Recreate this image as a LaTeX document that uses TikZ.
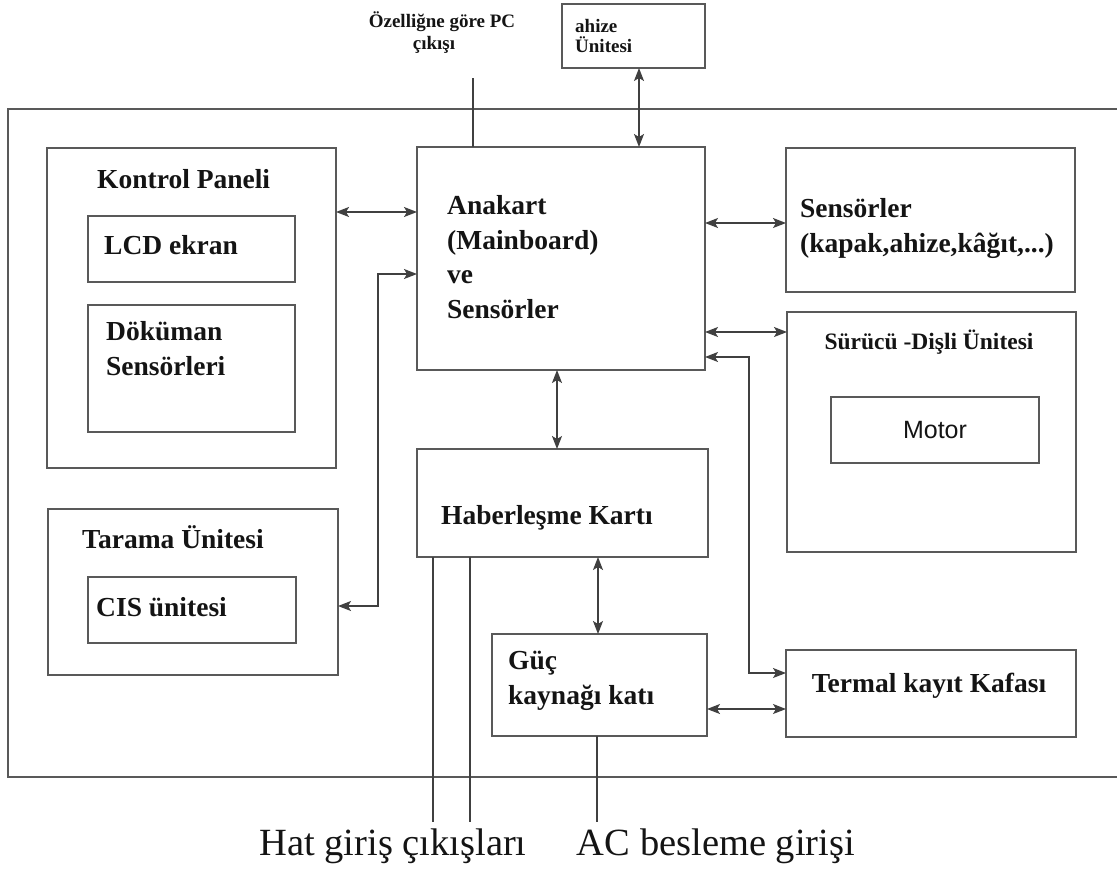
\documentclass[tikz,border=0pt]{standalone}
\usepackage{fontspec}
\setmainfont{Liberation Serif}
\newfontfamily\motorfont{Liberation Sans}
\usetikzlibrary{arrows.meta}

\tikzset{
  box/.style={draw=black!65, line width=1.8pt, inner sep=0pt, outer sep=0pt, anchor=north west},
  % multi-line labels are anchored on the baseline of their last line
  lbl/.style={inner sep=0pt, anchor=base west, align=left, text=black!92,
              font=\bfseries\fontsize{27.5}{34.5}\selectfont},
  clbl/.style={lbl, anchor=base},
  small/.style={inner sep=0pt, anchor=base west, align=left, text=black!92,
              font=\bfseries\fontsize{19}{20}\selectfont},
  big/.style={inner sep=0pt, anchor=base, text=black!92,
              font=\fontsize{38.5}{40}\selectfont},
  wire/.style={draw=black!75, line width=1.4pt},
  biarr/.style={wire, {Stealth[length=13pt,width=10pt,inset=3pt]}-{Stealth[length=13pt,width=10pt,inset=3pt]}}
}

% \unitbox{name}{x}{y}{width}{height} : rectangle with its top-left corner at (x,y)
\newcommand\unitbox[5]{\node[box, minimum width=#4pt, minimum height=#5pt] (#1) at (#2,#3) {};}

\begin{document}
\begin{tikzpicture}[x=1pt, y=-1pt]
\useasboundingbox (0,0) rectangle (1117,876);

% outer housing (its right side runs past the page edge)
\unitbox{frame}{8}{109}{1130}{668}

% units
\unitbox{ahize}{562}{4}{143}{64}
\unitbox{kp}{47}{148}{289}{320}
\unitbox{lcd}{88}{216}{207}{66}
\unitbox{dok}{88}{305}{207}{127}
\unitbox{tar}{48}{509}{290}{166}
\unitbox{cis}{88}{577}{208}{66}
\unitbox{ana}{417}{147}{288}{223}
\unitbox{sens}{786}{148}{289}{144}
\unitbox{sur}{787}{312}{289}{240}
\unitbox{mot}{831}{397}{208}{66}
\unitbox{hab}{417}{449}{291}{108}
\unitbox{guc}{492}{634}{215}{102}
\unitbox{term}{786}{650}{290}{87}

% labels
\node[small, anchor=base] (pctxt) at (442,27) {Özelliğne göre PC};
\node[small, anchor=base] (pctxt2) at (434,49) {çıkışı};
\node[small] (ahizetxt) at (575,52) {ahize\\Ünitesi};
\node[lbl] (kptxt) at (97,188) {Kontrol Paneli};
\node[lbl] (lcdtxt) at (104,254) {LCD ekran};
\node[lbl] (doktxt) at (106,375) {Döküman\\Sensörleri};
\node[lbl] (tartxt) at (82,548) {Tarama Ünitesi};
\node[lbl] (cistxt) at (96,616) {CIS ünitesi};
\node[lbl] (anatxt) at (447,318) {Anakart\\(Mainboard)\\ve\\Sensörler};
\node[lbl] (senstxt) at (800,252) {Sensörler\\(kapak,ahize,kâğıt,...)};
\node[clbl, font=\bfseries\fontsize{23.5}{26}\selectfont] (surtxt) at (929,349) {Sürücü -Dişli Ünitesi};
\node[inner sep=0pt, text=black!92, font=\motorfont\fontsize{25}{28}\selectfont] (mottxt) at (mot.center) {Motor};
\node[lbl] (habtxt) at (441,524) {Haberleşme Kartı};
\node[lbl] (guctxt) at (508,704) {Güç\\kaynağı katı};
\node[clbl] (termtxt) at (929,692) {Termal kayıt Kafası};
\node[big] (hattxt) at (393,855) {Hat giriş çıkışları};
\node[big] (actxt) at (716,855) {AC besleme girişi};

% reference levels for the connectors
\coordinate (h212) at (0,212);
\coordinate (h223) at (0,223);
\coordinate (h274) at (0,274);
\coordinate (h332) at (0,332);
\coordinate (h357) at (0,357);
\coordinate (h606) at (0,606);
\coordinate (h673) at (0,673);
\coordinate (h709) at (0,709);
\coordinate (v557) at (557,0);
\coordinate (v598) at (598,0);
\coordinate (v639) at (639,0);

% free ends and corners
\coordinate (pcend) at (473,78);
\coordinate (hat1) at (433,822);
\coordinate (hat2) at (470,822);
\coordinate (acend) at (597,822);
\coordinate (cisA) at (378,606);
\coordinate (cisB) at (378,274);
\coordinate (terA) at (749,357);
\coordinate (terB) at (749,673);

% connectors
\draw[wire] (pcend) -- (ana.north -| pcend);
\draw[biarr] (ahize.south -| v639) -- (ana.north -| v639);
\draw[biarr] (kp.east |- h212) -- (ana.west |- h212);
\draw[biarr] (tar.east |- h606) -- (cisA) -- (cisB) -- (ana.west |- h274);
\draw[biarr] (ana.east |- h223) -- (sens.west |- h223);
\draw[biarr] (ana.east |- h332) -- (sur.west |- h332);
\draw[biarr] (ana.east |- h357) -- (terA) -- (terB) -- (term.west |- h673);
\draw[biarr] (ana.south -| v557) -- (hab.north -| v557);
\draw[biarr] (hab.south -| v598) -- (guc.north -| v598);
\draw[biarr] (guc.east |- h709) -- (term.west |- h709);
\draw[wire] (hab.south -| hat1) -- (hat1);
\draw[wire] (hab.south -| hat2) -- (hat2);
\draw[wire] (guc.south -| acend) -- (acend);
\end{tikzpicture}
\end{document}
